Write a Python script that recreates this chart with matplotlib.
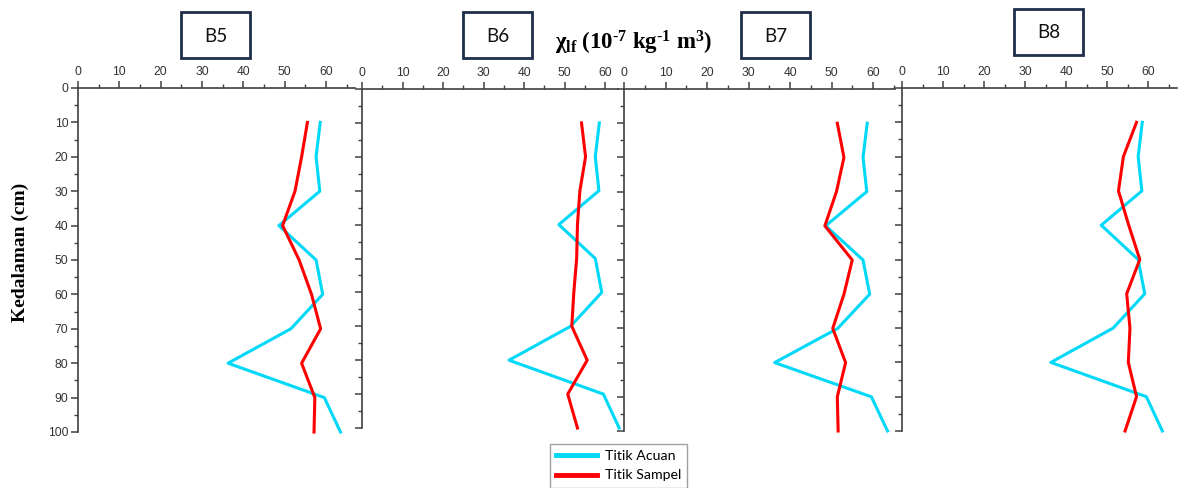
import matplotlib.pyplot as plt
from matplotlib.patches import Rectangle
from matplotlib.ticker import MultipleLocator

# depth (cm) and susceptibility values
depth = [10, 20, 30, 40, 50, 60, 70, 80, 90, 100]
acuan = [58.6, 57.6, 58.5, 48.6, 57.6, 59.2, 51.5, 36.3, 59.6, 63.5]
sampel_b5 = [55.5, 54.1, 52.5, 49.5, 53.5, 56.5, 58.7, 54.1, 57.3, 57.1]
sampel_b6 = [54.2, 55.2, 53.8, 53.2, 53.0, 52.3, 51.8, 55.6, 50.8, 53.2]
sampel_b7 = [51.4, 53.0, 51.2, 48.4, 55.0, 53.0, 50.3, 53.4, 51.4, 51.6]
sampel_b8 = [57.2, 54.0, 52.8, 55.3, 58.0, 54.8, 55.6, 55.2, 57.2, 54.4]
names = ['B5', 'B6', 'B7', 'B8']
sampel = [sampel_b5, sampel_b6, sampel_b7, sampel_b8]

plt.rcParams['mathtext.fontset'] = 'custom'
plt.rcParams['mathtext.rm'] = 'Liberation Serif:bold'
plt.rcParams['mathtext.it'] = 'Liberation Serif:bold'
plt.rcParams['mathtext.bf'] = 'Liberation Serif:bold'

W, H = 1178, 488
fig = plt.figure(figsize=(W / 100, H / 100), dpi=100)

# pixel frames of each panel: left, top, right, bottom, and x of the 60 tick
frames = [(78, 88, 355, 432, 326),
          (362, 89, 618, 428, 605),
          (624, 89, 895, 431, 873),
          (902, 88, 1177, 431, 1148)]
boxes = [(181, 12), (463, 12), (741, 12), (1014, 9)]

cyan = '#00d8f8'
red = '#ff0000'
axcol = '#404040'

for i, (l, t, r, b, x60) in enumerate(frames):
    ax = fig.add_axes([l / W, 1 - b / H, (r - l) / W, (b - t) / H])
    xmax = (r - l) / ((x60 - l) / 60)
    la, = ax.plot(acuan, depth, color=cyan, lw=2.2, clip_on=False, label='Titik Acuan')
    ls, = ax.plot(sampel[i], depth, color=red, lw=2.2, clip_on=False, label='Titik Sampel')
    ax.set_xlim(0, xmax)
    ax.set_ylim(100, 0)
    for s in ['right', 'bottom']:
        ax.spines[s].set_visible(False)
    for s in ['left', 'top']:
        ax.spines[s].set_color(axcol)
        ax.spines[s].set_linewidth(1.2)
    ax.xaxis.tick_top()
    ax.xaxis.set_major_locator(MultipleLocator(10))
    ax.xaxis.set_minor_locator(MultipleLocator(5))
    ax.yaxis.set_major_locator(MultipleLocator(10))
    ax.yaxis.set_minor_locator(MultipleLocator(5))
    ax.tick_params(which='major', length=5, width=1.1, color=axcol,
                   labelsize=8.7, labelcolor='#333333', pad=2)
    ax.tick_params(which='minor', length=3, width=1.0, color=axcol)
    ax.tick_params(axis='x', which='both', direction='out', top=True, bottom=False)
    ax.tick_params(axis='y', which='both', direction='out', left=True, right=False,
                   labelleft=(i == 0))
    for lab in ax.get_xticklabels() + ax.get_yticklabels():
        lab.set_family('Liberation Sans')

    bx, by = boxes[i]
    fig.patches.append(Rectangle((bx / W, 1 - (by + 46) / H), 69 / W, 46 / H,
                                 transform=fig.transFigure, fill=False,
                                 edgecolor='#1f2e4b', lw=2))
    fig.text((bx + 34.5) / W, 1 - (by + 24) / H, names[i], ha='center', va='center',
             fontsize=13.5, family='Lato', color='#111111')

fig.text(634 / W, 1 - 43 / H,
         r'χ$_{\mathrm{lf}}$ (10$^{\text{-7}}$ kg$^{\text{-1}}$ m$^{3}$)',
         ha='center', va='center', fontsize=16.5, family='Liberation Serif',
         fontweight='bold')
fig.text(20 / W, 1 - 252 / H, 'Kedalaman (cm)', rotation=90, ha='center', va='center',
         fontsize=14, family='Liberation Serif', fontweight='bold')

leg = fig.legend([la, ls], ['Titik Acuan', 'Titik Sampel'], loc='upper left',
                 bbox_to_anchor=(550 / W, 1 - 444 / H), fancybox=False,
                 edgecolor='#888888', handlelength=2.9, handletextpad=0.5,
                 borderaxespad=0, borderpad=0.45,
                 prop={'family': 'Lato', 'size': 10.2}, labelspacing=0.5)
leg.get_frame().set_linewidth(1.0)
for h in leg.get_lines():
    h.set_linewidth(3.5)

fig.savefig('out.png', dpi=100)
